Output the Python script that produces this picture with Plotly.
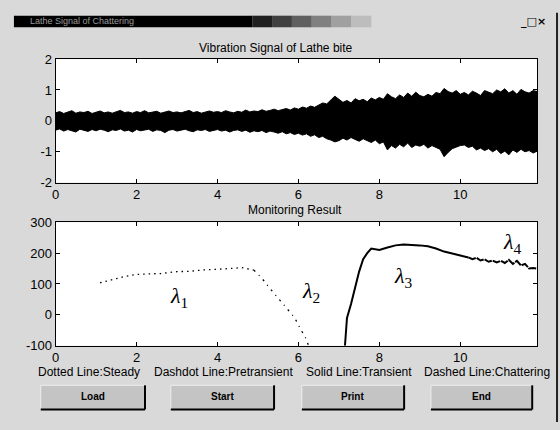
import plotly.graph_objects as go

# ---------------- data ----------------
sig_t = [round(i * 0.1, 1) for i in range(120)]
sig_upper = [
    0.26, 0.30, 0.24, 0.28, 0.33, 0.25, 0.29, 0.27, 0.31, 0.24,
    0.28, 0.32, 0.26, 0.29, 0.25, 0.30, 0.34, 0.27, 0.29, 0.25,
    0.30, 0.27, 0.33, 0.26, 0.29, 0.31, 0.25, 0.28, 0.32, 0.27,
    0.29, 0.26, 0.31, 0.34, 0.27, 0.30, 0.25, 0.29, 0.32, 0.28,
    0.30, 0.27, 0.33, 0.29, 0.26, 0.31, 0.28, 0.35, 0.29, 0.32,
    0.30, 0.36, 0.31, 0.34, 0.38, 0.33, 0.36, 0.40, 0.35, 0.42,
    0.38, 0.45, 0.41, 0.48, 0.44, 0.52, 0.58, 0.55, 0.66, 0.80,
    0.70, 0.60, 0.66, 0.58, 0.72, 0.65, 0.70, 0.62, 0.74, 0.68,
    0.76, 0.70, 0.88, 0.78, 0.72, 0.84, 0.76, 0.90, 0.80, 0.93,
    0.82, 0.78, 0.86, 0.80, 0.92, 0.88, 1.05, 0.95, 0.90, 0.98,
    0.86, 0.92, 0.84, 0.96, 0.90, 0.82, 0.98, 0.92, 0.88, 1.00,
    0.94, 1.04, 0.90, 0.98, 0.86, 1.02, 0.94, 0.90, 0.98, 0.95,
]
sig_lower = [
    -0.30, -0.26, -0.33, -0.28, -0.31, -0.36, -0.27, -0.30, -0.34, -0.28,
    -0.32, -0.27, -0.30, -0.35, -0.29, -0.31, -0.26, -0.33, -0.30, -0.36,
    -0.28, -0.32, -0.30, -0.27, -0.34, -0.29, -0.31, -0.38, -0.30, -0.28,
    -0.33, -0.30, -0.27, -0.32, -0.35, -0.29, -0.31, -0.28, -0.34, -0.30,
    -0.28, -0.33, -0.30, -0.36, -0.31, -0.29, -0.34, -0.30, -0.37, -0.32,
    -0.35, -0.31, -0.38, -0.33, -0.36, -0.40, -0.35, -0.42, -0.38, -0.44,
    -0.40, -0.46, -0.42, -0.50, -0.45, -0.54, -0.50, -0.58, -0.62, -0.68,
    -0.64, -0.56, -0.62, -0.54, -0.60, -0.66, -0.58, -0.64, -0.70, -0.62,
    -0.74, -0.68, -0.94, -0.80, -0.88, -0.76, -0.84, -0.72, -0.86, -0.78,
    -0.82, -0.76, -0.88, -0.80, -0.86, -0.92, -1.16, -1.02, -0.90, -0.84,
    -0.80, -0.78, -0.86, -0.82, -0.94, -0.88, -0.96, -0.90, -1.00, -0.92,
    -1.06, -0.98, -1.10, -0.94, -1.02, -0.92, -1.00, -0.96, -1.04, -0.98,
]

# Monitoring result
steady_x = [1.1, 1.4, 1.7, 2.0, 2.3, 2.6, 3.0, 3.3, 3.6, 4.0, 4.3, 4.6, 4.9]
steady_y = [104, 115, 124, 131, 133, 134, 140, 141, 145, 147, 150, 153, 145]

pre_x = [4.9, 5.1, 5.3, 5.5, 5.7, 5.9, 6.05, 6.2, 6.25]
pre_y = [145, 118, 85, 55, 25, -8, -45, -80, -100]

trans_x = [7.15, 7.2, 7.3, 7.4, 7.5, 7.6, 7.7, 7.8, 7.9, 8.0, 8.2, 8.4, 8.6,
           8.8, 9.0, 9.2, 9.4, 9.6, 9.8, 10.0, 10.2]
trans_y = [-100, -10, 35, 90, 140, 180, 200, 215, 212, 210, 218, 225, 228,
           227, 225, 222, 215, 205, 198, 192, 186]

chat_x = [10.2, 10.3, 10.4, 10.5, 10.6, 10.7, 10.8, 10.9, 11.0, 11.1, 11.2,
          11.3, 11.4, 11.5, 11.6, 11.7, 11.8, 11.9]
chat_y = [186, 180, 185, 176, 180, 172, 176, 170, 175, 168, 178, 165, 175,
          160, 165, 150, 152, 150]

x_ticks = [0, 2, 4, 6, 8, 10]
top_y_ticks = [-2, -1, 0, 1, 2]
top_y_text = ["-2", "-1", "0", "1", "2"]
bot_y_ticks = [-100, 0, 100, 200, 300]
bot_y_text = ["-100", "0", "100", "200", "300"]

legend_texts = ["Dotted Line:Steady", "Dashdot Line:Pretransient",
                "Solid Line:Transient", "Dashed Line:Chattering"]
button_labels = ["Load", "Start", "Print", "End"]

# ---------------- figure ----------------
W, H = 560, 430


def px(x):
    return x / W


def py(y):
    return 1 - y / H


fig = go.Figure()

# vibration signal band
fig.add_trace(go.Scatter(
    x=sig_t + sig_t[::-1], y=sig_upper + sig_lower[::-1],
    fill="toself", fillcolor="black", mode="lines",
    line=dict(color="black", width=1), xaxis="x", yaxis="y",
    hoverinfo="skip"))

fig.add_trace(go.Scatter(x=steady_x, y=steady_y, mode="lines",
                         line=dict(color="black", width=1.3,
                                   dash="1.5px,4px"),
                         xaxis="x2", yaxis="y2"))
fig.add_trace(go.Scatter(x=pre_x, y=pre_y, mode="lines",
                         line=dict(color="black", width=1.3,
                                   dash="2px,5px,1px,5px"),
                         xaxis="x2", yaxis="y2"))
fig.add_trace(go.Scatter(x=trans_x, y=trans_y, mode="lines",
                         line=dict(color="black", width=2),
                         xaxis="x2", yaxis="y2"))
fig.add_trace(go.Scatter(x=chat_x, y=chat_y, mode="lines",
                         line=dict(color="black", width=2, dash="8px,1px"),
                         xaxis="x2", yaxis="y2"))

axis_common = dict(showline=True, linecolor="black", linewidth=1,
                   mirror="ticks", ticks="inside", ticklen=4,
                   tickcolor="black", showgrid=False, zeroline=False,
                   tickfont=dict(family="Liberation Sans", size=13,
                                 color="black"))

xdom = [px(52), px(537)]
fig.update_layout(
    width=W, height=H, autosize=False,
    margin=dict(l=0, r=0, t=0, b=0),
    paper_bgcolor="#d9d9d9", plot_bgcolor="white",
    showlegend=False,
    xaxis=dict(domain=xdom, anchor="y", range=[0, 11.9],
               tickvals=x_ticks, **axis_common),
    yaxis=dict(domain=[py(182), py(54)], anchor="x", range=[-2, 2],
               tickvals=top_y_ticks, ticktext=top_y_text, **axis_common),
    xaxis2=dict(domain=xdom, anchor="y2", range=[0, 11.9],
                tickvals=x_ticks, **axis_common),
    yaxis2=dict(domain=[py(351), py(223)], anchor="x2", range=[-100, 300],
                tickvals=bot_y_ticks, ticktext=bot_y_text, **axis_common),
)

shapes = []
annots = []

# window title bar (dark with fade)
shapes.append(dict(type="rect", xref="paper", yref="paper",
                   x0=px(10), x1=px(250), y0=py(21), y1=py(9),
                   fillcolor="black", line=dict(width=0), layer="below"))
fade = ["#202020", "#404040", "#606060", "#808080", "#a0a0a0", "#bdbdbd"]
for i, c in enumerate(fade):
    shapes.append(dict(type="rect", xref="paper", yref="paper",
                       x0=px(250 + i * 20), x1=px(270 + i * 20),
                       y0=py(21), y1=py(9),
                       fillcolor=c, line=dict(width=0), layer="below"))
annots.append(dict(text="Lathe Signal of Chattering", xref="paper",
                   yref="paper", x=px(24), y=py(15), xanchor="left",
                   yanchor="middle", showarrow=False,
                   font=dict(family="Liberation Sans", size=9,
                             color="#9a9a9a")))
annots.append(dict(text="<b>_□×</b>", xref="paper", yref="paper",
                   x=px(548), y=py(15), xanchor="right", yanchor="middle",
                   showarrow=False,
                   font=dict(family="DejaVu Sans", size=11, color="black")))
# right window border
shapes.append(dict(type="line", xref="paper", yref="paper",
                   x0=px(557), x1=px(557), y0=0, y1=py(6),
                   line=dict(color="#222222", width=2)))

# titles
annots.append(dict(text="Vibration Signal of Lathe bite", xref="paper",
                   yref="paper", x=px(274), y=py(42), xanchor="center",
                   yanchor="middle", showarrow=False,
                   font=dict(family="Liberation Sans", size=12,
                             color="black")))
annots.append(dict(text="Monitoring Result", xref="paper", yref="paper",
                   x=px(293), y=py(210), xanchor="center", yanchor="middle",
                   showarrow=False,
                   font=dict(family="Liberation Sans", size=12,
                             color="black")))

# legend texts under lower axes
leg_centers = [86, 221, 358, 486]
for t, cx in zip(legend_texts, leg_centers):
    annots.append(dict(text=t, xref="paper", yref="paper", x=px(cx),
                       y=py(378), xanchor="center", yanchor="middle",
                       showarrow=False,
                       font=dict(family="Liberation Sans", size=12,
                                 color="black")))

# buttons
btn_x = [(37, 142), (168, 272), (300, 403), (430, 532)]
for lab, (x0, x1) in zip(button_labels, btn_x):
    y0, y1 = 392, 417
    shapes.append(dict(type="rect", xref="paper", yref="paper",
                       x0=px(x0), x1=px(x1), y0=py(y1), y1=py(y0),
                       fillcolor="#c4c4c4", line=dict(color="#eeeeee",
                                                      width=1)))
    shapes.append(dict(type="line", xref="paper", yref="paper",
                       x0=px(x1), x1=px(x1), y0=py(y1), y1=py(y0),
                       line=dict(color="black", width=2)))
    shapes.append(dict(type="line", xref="paper", yref="paper",
                       x0=px(x0), x1=px(x1), y0=py(y1), y1=py(y1),
                       line=dict(color="black", width=2)))
    annots.append(dict(text="<b>" + lab + "</b>", xref="paper",
                       yref="paper", x=px((x0 + x1) / 2), y=py(404),
                       xanchor="center", yanchor="middle", showarrow=False,
                       font=dict(family="Liberation Sans", size=10,
                                 color="black")))

# lambda labels
lam = [("1", 3.05, 59), ("2", 6.3, 75), ("3", 8.6, 122), ("4", 11.3, 232)]
for sub, lx, ly in lam:
    annots.append(dict(text="<i>λ</i><sub>" + sub + "</sub>", xref="x2",
                       yref="y2", x=lx, y=ly, xanchor="center",
                       yanchor="middle", showarrow=False,
                       font=dict(family="Liberation Serif", size=22,
                                 color="black")))

fig.update_layout(shapes=shapes, annotations=annots)
fig.write_html("out.html")
